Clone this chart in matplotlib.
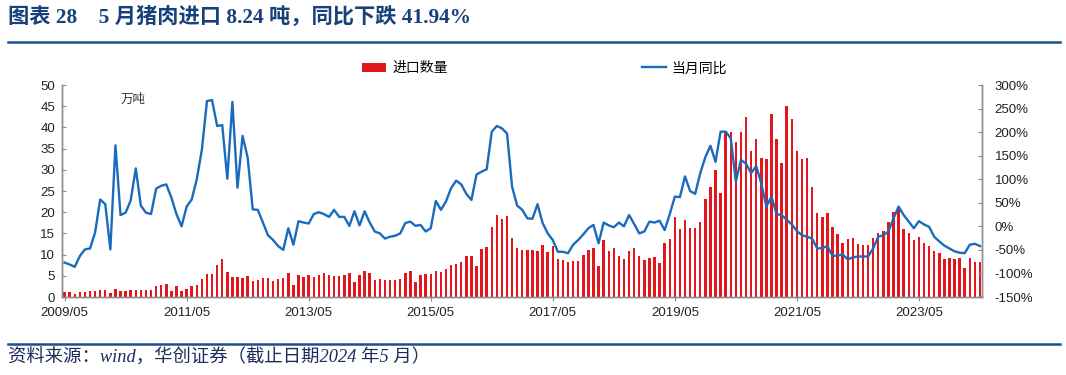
import matplotlib
matplotlib.use('Agg')
import matplotlib.pyplot as plt
import numpy as np
import pandas as pd
from matplotlib.patches import Patch
from matplotlib.lines import Line2D

plt.rcParams['font.family'] = ['Liberation Sans', 'Noto Sans CJK SC', 'DejaVu Sans']

# ---- data ----
months = pd.period_range('2009-05', '2024-05', freq='M')

import_qty = [  # 万吨
    1.2, 1.2, 0.7, 1.2, 1.2, 1.3, 1.5, 1.7, 1.7, 0.9,
    2.0, 1.5, 1.5, 1.7, 1.7, 1.6, 1.7, 1.6, 2.5, 2.9,
    3.0, 1.3, 2.5, 1.5, 2.0, 2.6, 2.9, 4.2, 5.5, 5.4,
    7.6, 9.0, 5.8, 4.6, 4.6, 4.4, 5.0, 3.8, 4.0, 4.4,
    4.5, 3.8, 4.3, 4.5, 5.7, 2.8, 5.1, 4.6, 5.3, 4.7,
    5.1, 5.6, 5.1, 5.0, 5.0, 5.3, 5.6, 3.6, 5.1, 6.1,
    5.7, 3.9, 4.3, 4.0, 4.0, 4.0, 4.3, 5.6, 6.1, 3.5,
    5.3, 5.4, 5.4, 6.1, 5.8, 6.5, 7.5, 7.9, 8.2, 9.7,
    9.7, 7.4, 11.4, 11.9, 16.4, 19.3, 18.3, 19.2, 14.0, 11.5,
    11.2, 11.2, 11.1, 10.9, 12.3, 10.6, 12.0, 9.0, 8.7, 8.3,
    8.6, 8.4, 9.9, 11.1, 11.5, 7.2, 13.4, 10.9, 11.5, 9.7,
    8.9, 10.9, 11.5, 9.7, 8.7, 9.1, 9.4, 8.1, 12.8, 13.6,
    18.8, 16.0, 18.2, 16.2, 16.2, 17.7, 23.0, 26.0, 30.0, 24.6,
    39.0, 39.0, 36.6, 39.0, 42.5, 34.4, 37.2, 32.9, 32.5, 43.2,
    37.2, 31.5, 45.0, 42.1, 34.5, 32.5, 32.9, 26.0, 19.7, 18.9,
    19.7, 16.4, 14.9, 12.7, 13.6, 13.8, 12.5, 12.2, 12.2, 13.8,
    15.2, 15.5, 17.8, 20.0, 21.3, 16.0, 15.2, 13.4, 14.1, 12.7,
    12.1, 10.9, 10.3, 9.0, 9.1, 9.0, 9.1, 6.9, 9.1, 8.3,
    8.24,
]

yoy_pct = [  # 当月同比, %
    -77, -81, -86, -63, -49, -47, -13, 57, 47, -49,
    172, 24, 29, 55, 123, 44, 29, 26, 80, 86,
    89, 61, 26, 0, 42, 57, 100, 163, 266, 268,
    213, 215, 101, 264, 82, 192, 146, 36, 35, 8,
    -19, -29, -42, -50, -4, -39, 11, 8, 6, 26,
    30, 26, 20, 35, 20, 20, 1, 32, 2, 32,
    8, -11, -15, -26, -22, -20, -15, 7, 10, 1,
    3, -11, -4, 54, 35, 53, 81, 97, 89, 69,
    56, 110, 116, 121, 201, 213, 208, 197, 84, 44,
    35, 17, 16, 47, 7, -15, -29, -54, -54, -57,
    -39, -29, -17, -4, 3, -36, 8, 2, -2, 8,
    0, 24, 5, -15, -11, 10, 8, 12, -8, 26,
    63, 62, 106, 75, 69, 113, 147, 171, 137, 201,
    201, 187, 95, 141, 133, 113, 128, 91, 42, 63,
    26, 24, 14, 4, -10, -19, -22, -26, -47, -46,
    -42, -63, -62, -60, -70, -66, -64, -64, -64, -47,
    -22, -19, -11, 17, 42, 24, 10, -4, 11, 4,
    -1, -22, -32, -41, -47, -53, -56, -57, -39, -37,
    -41.94,
]

tick_step = 24
left_ticks = list(range(0, 51, 5))
right_ticks = list(range(-150, 301, 50))

# ---- figure ----
BLUE_DARK = '#17407c'
RED = '#E3161E'
LINE_BLUE = '#1A6BBE'
GRAY = '#8c8c8c'

fig = plt.figure(figsize=(10.66, 3.75), dpi=100)
ax = fig.add_axes([0.0582, 0.208, 0.8630, 0.5653])
x = np.arange(len(months))

ax.bar(x, import_qty, width=0.48, color=RED, zorder=2, label='进口数量')
ax.set_ylim(0, 50)
ax.set_yticks(left_ticks)
ax.set_xlim(-0.5, 180.4)
ax.set_xticks(x[::tick_step])
ax.set_xticklabels([m.strftime('%Y/%m') for m in months[::tick_step]])

ax2 = ax.twinx()
ax2.plot(x, yoy_pct, color=LINE_BLUE, lw=1.7, label='当月同比', zorder=3)
ax2.set_ylim(-150, 300)
ax2.set_yticks(right_ticks)
ax2.set_yticklabels([f'{v}%' for v in right_ticks])

for a in (ax, ax2):
    a.spines['top'].set_visible(False)
    for s in ('left', 'right', 'bottom'):
        a.spines[s].set_color(GRAY)
        a.spines[s].set_linewidth(1.0)

ax.tick_params(axis='y', direction='in', length=3, pad=5, labelsize=9.5,
               colors='#222222', color=GRAY)
ax.tick_params(axis='x', direction='out', length=3, pad=4, labelsize=9.5,
               colors='#222222', color=GRAY)
ax2.tick_params(axis='y', direction='in', length=3, pad=9, labelsize=9.5,
                colors='#222222', color=GRAY)

ax.text(13.5, 46.5, '万吨', fontsize=9, color='#333333', ha='center', va='center')

handles = [Patch(facecolor=RED, edgecolor='none', label='进口数量'),
           Line2D([0], [0], color=LINE_BLUE, lw=1.7, label='当月同比')]
fig.legend(handles=handles, loc='center', bbox_to_anchor=(0.511, 0.818), ncol=2,
           frameon=False, fontsize=10, handlelength=1.75, handleheight=0.7,
           handletextpad=0.4, columnspacing=14.0)

# title & source
fig.text(0.0075, 0.953, '图表 28    5 月猪肉进口 8.24 吨，同比下跌 41.94%',
         fontsize=15.3, weight='bold', color=BLUE_DARK, va='center', ha='left',
         family=['Liberation Serif', 'Noto Sans CJK SC'])
fig.add_artist(Line2D([0.0075, 0.994], [0.888, 0.888], transform=fig.transFigure,
                      color='#1f4e8c', lw=1.8))
fig.add_artist(Line2D([0.0075, 0.994], [0.0827, 0.0827], transform=fig.transFigure,
                      color='#1f4e8c', lw=1.8))
fig.text(0.0075, 0.047, '资料来源：wind，华创证券（截止日期2024 年5 月）',
         fontsize=13.2, color='#1c2c5c', va='center', ha='left', style='italic',
         family=['Liberation Serif', 'Noto Sans CJK SC'])

fig.savefig('out.png', dpi=100)
